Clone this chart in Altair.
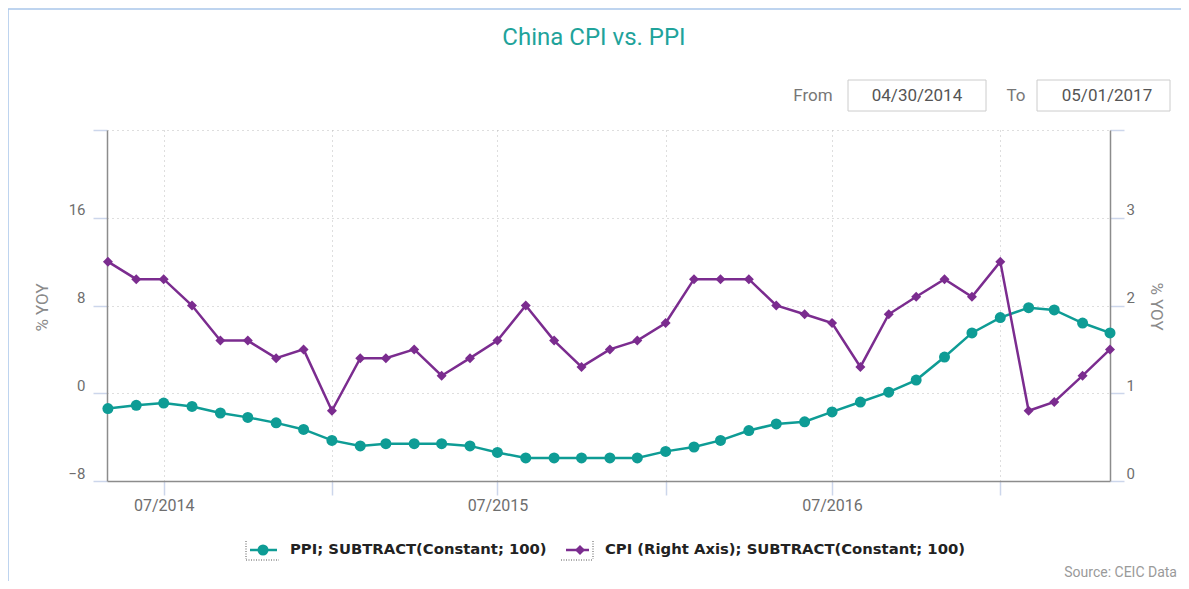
import altair as alt
import pandas as pd

# ---- data (monthly, plotted at first day of the month) ----
all_months = [f"{y}-{m:02d}-01" for y in range(2014, 2018) for m in range(1, 13)]
months = all_months[4:41]  # 2014-05 .. 2017-05

ppi = [-1.4, -1.1, -0.9, -1.2, -1.8, -2.2, -2.7, -3.3, -4.3, -4.8, -4.6, -4.6,
       -4.6, -4.8, -5.4, -5.9, -5.9, -5.9, -5.9, -5.9, -5.3, -4.9, -4.3, -3.4,
       -2.8, -2.6, -1.7, -0.8, 0.1, 1.2, 3.3, 5.5, 6.9, 7.8, 7.6, 6.4, 5.5]
cpi = [2.5, 2.3, 2.3, 2.0, 1.6, 1.6, 1.4, 1.5, 0.8, 1.4, 1.4, 1.5,
       1.2, 1.4, 1.6, 2.0, 1.6, 1.3, 1.5, 1.6, 1.8, 2.3, 2.3, 2.3,
       2.0, 1.9, 1.8, 1.3, 1.9, 2.1, 2.3, 2.1, 2.5, 0.8, 0.9, 1.2, 1.5]

left_ticks = [-8, 0, 8, 16, 24]
right_ticks = [0, 1, 2, 3, 4]
x_tick_dates = [(2014, 7), (2015, 1), (2015, 7), (2016, 1), (2016, 7), (2017, 1)]

title_text = "China CPI vs. PPI"
ppi_name = "PPI; SUBTRACT(Constant; 100)"
cpi_name = "CPI (Right Axis); SUBTRACT(Constant; 100)"

TEAL = "#0e9c95"
PURPLE = "#7b2c8f"

df = pd.DataFrame({"date": months, "ppi": ppi, "cpi": cpi})
dummy = pd.DataFrame({"d": [0]})

x_axis = alt.Axis(
    values=[alt.DateTime(year=y, month=m, date=1, utc=True) for y, m in x_tick_dates],
    labelExpr="utcmonth(datum.value) == 6 ? utcFormat(datum.value, '%m/%Y') : ''",
    grid=True, gridDash=[1, 4], gridColor="#bdbdbd",
    tickSize=14, tickColor="#ccd6eb", tickWidth=1.5,
    domainColor="#8c8c8c", domainWidth=1.5,
    labelPadding=2, labelFlush=False, labelOverlap=False, labelFontSize=16,
)
x_enc = alt.X(
    "date:T",
    title=None,
    scale=alt.Scale(type="utc", nice=False,
                    domain=[alt.DateTime(year=2014, month=4, date=30, utc=True),
                            alt.DateTime(year=2017, month=5, date=1, utc=True)]),
    axis=x_axis,
)

y_left = alt.Y(
    "ppi:Q",
    scale=alt.Scale(domain=[-8, 24], nice=False, zero=False),
    axis=alt.Axis(
        orient="left", values=left_ticks,
        labelExpr="datum.value == 24 ? '' : datum.label",
        title="% YOY", titleAngle=270, titleX=-65, titleY=177,
        titleBaseline="middle", titleAlign="center",
        grid=True, gridDash=[1, 4], gridColor="#bdbdbd",
        tickSize=14, tickColor="#ccd6eb", tickWidth=1.5,
        domainColor="#8c8c8c", domainWidth=1.5,
        labelPadding=8, labelBaseline="alphabetic", labelOffset=-3,
        labelFlush=False, labelOverlap=False,
    ),
)
y_right = alt.Y(
    "cpi:Q",
    scale=alt.Scale(domain=[0, 4], nice=False, zero=False),
    axis=alt.Axis(
        orient="right", values=right_ticks,
        labelExpr="datum.value == 4 ? '' : datum.label",
        title="% YOY", titleAngle=90, titleX=45, titleY=176,
        titleBaseline="middle", titleAlign="center",
        grid=False,
        tickSize=14, tickColor="#ccd6eb", tickWidth=1.5,
        domainColor="#8c8c8c", domainWidth=1.5,
        labelPadding=2, labelBaseline="alphabetic", labelOffset=-3,
        labelFlush=False, labelOverlap=False,
    ),
)

ppi_base = alt.Chart(df).encode(x=x_enc, y=y_left)
ppi_layer = alt.layer(
    ppi_base.mark_line(color=TEAL, strokeWidth=2.5),
    ppi_base.mark_point(filled=True, shape="circle", size=121, color=TEAL, opacity=1),
)
cpi_base = alt.Chart(df).encode(x=x_enc, y=y_right)
cpi_layer = alt.layer(
    cpi_base.mark_line(color=PURPLE, strokeWidth=2.5),
    cpi_base.mark_point(filled=True, shape="diamond", size=100, color=PURPLE, opacity=1),
)


def txt(s, x, y, size, color, align="center", weight="normal", font="Roboto", baseline="middle"):
    return alt.Chart(dummy).mark_text(
        text=s, fontSize=size, color=color, align=align, baseline=baseline,
        fontWeight=weight, font=font,
    ).encode(x=alt.value(x), y=alt.value(y))


def box(x, x2, y, y2, stroke, fill="white", sw=1.0):
    return alt.Chart(dummy).mark_rect(fill=fill, stroke=stroke, strokeWidth=sw).encode(
        x=alt.value(x), x2=alt.value(x2), y=alt.value(y), y2=alt.value(y2))


def rule(x, x2, y, y2, color, sw, dash=None):
    kw = dict(color=color, strokeWidth=sw)
    if dash:
        kw["strokeDash"] = dash
    return alt.Chart(dummy).mark_rule(**kw).encode(
        x=alt.value(x), x2=alt.value(x2), y=alt.value(y), y2=alt.value(y2))


def sym(x, y, shape, size, color):
    return alt.Chart(dummy).mark_point(filled=True, shape=shape, size=size, color=color, opacity=1).encode(
        x=alt.value(x), y=alt.value(y))


deco = [
    # outer frame (left and top edges only are in view)
    rule(-99, -99, -121, 700, "#a9c6ea", 1.5),
    rule(-99, 1300, -121, -121, "#a9c6ea", 1.5),
    txt(title_text, 487, -92, 24, "#1fa39b"),
    txt("From", 706, -34, 17, "#777777"),
    box(741, 879, -50, -19, "#cccccc"),
    txt("04/30/2014", 810, -34, 17, "#555555"),
    txt("To", 909, -34, 17, "#777777"),
    box(930, 1063, -50, -19, "#cccccc"),
    txt("05/01/2017", 1000, -34, 17, "#555555"),
    txt("Source: CEIC Data", 1070, 443, 14, "#9a9a9a", align="right"),
    # legend
    rule(139, 139, 411, 429, "#555555", 1, [1, 1.5]),
    rule(139, 172, 430, 430, "#555555", 1, [1, 1.5]),
    rule(143, 170, 420, 420, TEAL, 2.5),
    sym(156, 420, "circle", 121, TEAL),
    txt(ppi_name, 183, 420, 14.8, "#222222", align="left", weight="bold", font="DejaVu Sans"),
    rule(486, 486, 411, 429, "#555555", 1, [1, 1.5]),
    rule(454, 486, 430, 430, "#555555", 1, [1, 1.5]),
    rule(459, 482, 420, 420, PURPLE, 2.5),
    sym(473, 420, "diamond", 100, PURPLE),
    txt(cpi_name, 498, 420, 14.8, "#222222", align="left", weight="bold", font="DejaVu Sans"),
]

chart = alt.layer(ppi_layer, cpi_layer, *deco).resolve_scale(y="independent").properties(
    width=1003,
    height=351,
    autosize=alt.AutoSizeParams(type="none"),
    padding={"left": 99, "top": 122, "right": 71, "bottom": 100},
).configure_view(stroke=None).configure_axis(
    labelFont="Roboto", labelFontSize=15, labelColor="#6e6e6e",
    titleFont="Roboto", titleFontSize=17, titleColor="#8a8a8a", titleFontWeight="normal",
)

chart.save("out.html", embed_options={"renderer": "svg", "actions": False})
